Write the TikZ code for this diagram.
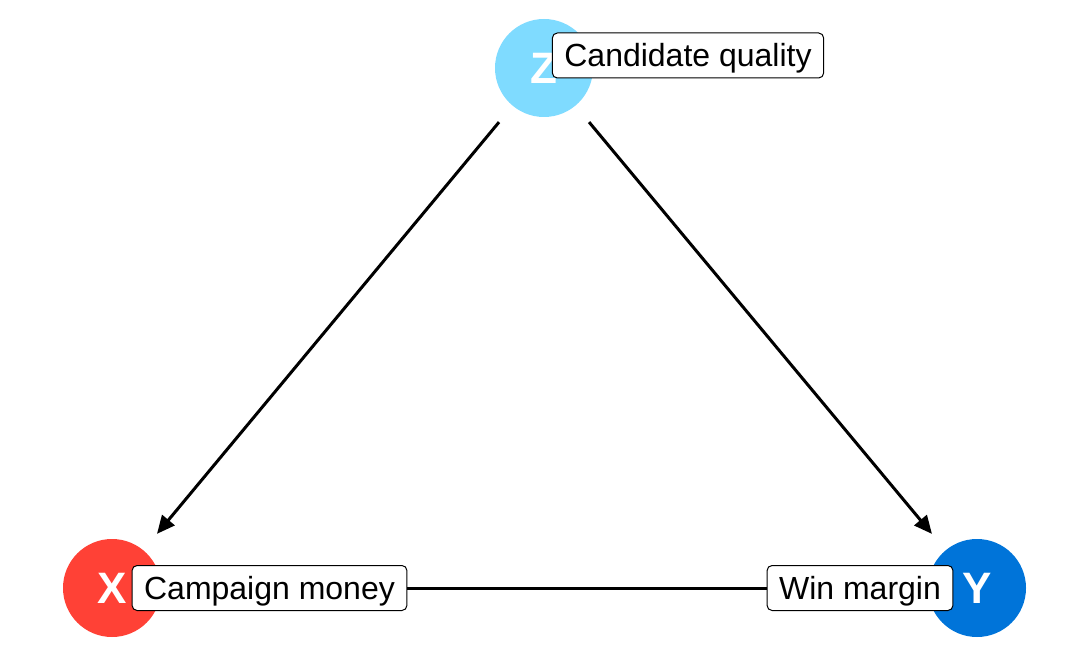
\documentclass[tikz,border=0pt]{standalone}
\usepackage{fontspec}
\setmainfont{Liberation Sans}
\usetikzlibrary{arrows.meta}
\definecolor{zaqua}{HTML}{7FDBFF}
\definecolor{xred}{HTML}{FF4136}
\definecolor{yblue}{HTML}{0074D9}
\begin{document}
\begin{tikzpicture}[x=0.5pt,y=-0.5pt,
  var/.style={circle,minimum size=49pt,inner sep=0pt,text=white,font=\bfseries\fontsize{22}{26}\selectfont},
  lbl/.style={draw=black,fill=white,rounded corners=2.5pt,line width=0.5pt,font=\fontsize{16}{19}\selectfont,inner xsep=6pt,inner ysep=5.5pt,text height=11.5pt,text depth=0pt},
  edge/.style={line width=1.5pt,shorten >=10.5pt,shorten <=10.5pt}]
\useasboundingbox (0,0) rectangle (1080,667);

\node[var,fill=zaqua] (z) at (544,68) {Z};
\node[var,fill=xred] (x) at (112,588) {X};
\node[var,fill=yblue] (y) at (977,588) {Y};

\draw[edge,-{Triangle[length=9pt,width=8pt]}] (z) -- (x);
\draw[edge,-{Triangle[length=9pt,width=8pt]}] (z) -- (y);
\draw[line width=1.5pt] (x) -- (y);

\node[lbl] (zl) at (688,55.5) {Candidate quality};
\node[lbl] (xl) at (269.5,588) {Campaign money};
\node[lbl] (yl) at (860,588) {Win margin};
\end{tikzpicture}
\end{document}
